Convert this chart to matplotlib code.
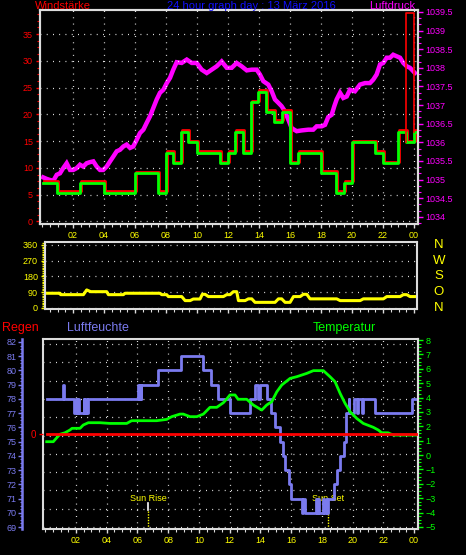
# Wetterstation 24h Grafik: Wind / Luftdruck, Windrichtung, Feuchte / Temperatur

import numpy as np
import matplotlib.pyplot as plt
import matplotlib.transforms as mtransforms
from matplotlib.ticker import MultipleLocator, AutoMinorLocator

plt.rcParams['font.family'] = ['Liberation Sans', 'DejaVu Sans']

# Zeitachse (Stunden)
hour_ticks = list(range(2, 25, 2))
hour_labels = ['02', '04', '06', '08', '10', '12', '14', '16', '18', '20', '22', '00']

# Windstärke (Stufen, km/h)
wind_h = [0.08, 0.95, 2.45, 4.0, 6.0, 7.5, 8.0, 8.47, 8.97, 9.45, 9.98, 11.48, 11.98, 12.45, 12.97,
          13.48, 13.95, 14.43, 14.97, 15.46, 15.97, 16.5, 18.0, 18.97, 19.48, 19.98, 21.48, 21.98,
          22.99, 23.48, 24.0, 24.13]
wind_v = [7.2, 5.3, 7.2, 5.3, 9.0, 5.3, 12.8, 10.9, 16.7, 14.8, 12.8, 10.9, 12.8, 16.7, 12.8,
          22.3, 24.2, 20.5, 18.6, 20.5, 10.9, 12.8, 9.1, 5.3, 7.2, 14.8, 12.8, 10.9,
          16.7, 14.8, 16.7, 16.7]

# aktueller Zeitpunkt (rote Markierung)
now_h = [23.48, 24.02]
now_low = [14.8, 16.7]
now_top = 38.95

# Luftdruck (hPa)
press_h = [0.08, 0.30, 0.52, 0.73, 0.95, 1.16, 1.37, 1.59, 1.81, 2.02, 2.24, 2.45, 2.66, 2.88, 3.10,
           3.31, 3.53, 3.74, 3.95, 4.17, 4.39, 4.60, 4.82, 5.03, 5.25, 5.46, 5.68, 5.89, 6.11, 6.32,
           6.54, 6.75, 6.97, 7.18, 7.40, 7.61, 7.83, 8.05, 8.26, 8.47, 8.69, 9.01, 9.34, 9.66, 9.98,
           10.30, 10.63, 10.95, 11.27, 11.59, 11.92, 12.24, 12.56, 12.88, 13.21, 13.53, 13.85, 14.06,
           14.28, 14.60, 14.82, 15.03, 15.25, 15.46, 15.68, 15.89, 16.11, 16.43, 16.75, 17.18, 17.50,
           17.72, 18.05, 18.26, 18.47, 18.69, 18.86, 19.01, 19.23, 19.44, 19.66, 19.87, 20.19, 20.52,
           20.84, 21.16, 21.37, 21.59, 21.81, 22.02, 22.24, 22.45, 22.66, 22.88, 23.10, 23.31, 23.53,
           23.74, 23.95, 24.06]
press_v = [1035.06, 1035.02, 1034.99, 1034.97, 1035.13, 1035.17, 1035.31, 1035.44, 1035.26, 1035.26,
           1035.31, 1035.40, 1035.35, 1035.44, 1035.47, 1035.49, 1035.35, 1035.26, 1035.26, 1035.35,
           1035.49, 1035.62, 1035.76, 1035.80, 1035.89, 1035.94, 1035.85, 1035.89, 1036.07, 1036.25,
           1036.34, 1036.52, 1036.70, 1036.92, 1037.15, 1037.33, 1037.41, 1037.59, 1037.73, 1037.95,
           1038.15, 1038.13, 1038.22, 1038.13, 1038.13, 1037.95, 1037.86, 1037.95, 1038.04, 1038.17,
           1038.00, 1038.00, 1038.13, 1038.04, 1037.93, 1037.95, 1037.95, 1037.82, 1037.64, 1037.55,
           1037.37, 1037.15, 1037.06, 1036.97, 1036.83, 1036.61, 1036.38, 1036.30, 1036.32, 1036.34,
           1036.34, 1036.43, 1036.43, 1036.47, 1036.68, 1036.74, 1036.97, 1037.15, 1037.33, 1037.19,
           1037.23, 1037.41, 1037.37, 1037.55, 1037.59, 1037.59, 1037.68, 1037.82, 1038.09, 1038.13,
           1038.27, 1038.27, 1038.35, 1038.31, 1038.27, 1038.13, 1038.04, 1038.00, 1037.91, 1037.86]

# Windrichtung (Grad)
dir_h = [0.26, 1.16, 1.2, 2.67, 2.88, 3.14, 4.17, 4.28, 5.25, 5.35, 7.61, 7.72, 8.04, 8.15, 9.01,
         9.23, 9.55, 9.76, 10.19, 10.34, 10.52, 10.73, 11.7, 11.91, 12.13, 12.34, 12.56, 12.67, 13.1,
         13.31, 13.53, 13.74, 15.03, 15.25, 15.46, 15.68, 16.0, 16.22, 16.65, 16.86, 17.08, 17.29,
         19.01, 19.23, 20.52, 20.73, 22.02, 22.24, 23.1, 23.31, 23.53, 23.74, 24.13]
dir_v = [84, 84, 76, 76, 103, 93, 93, 76, 76, 84, 84, 76, 76, 65, 65,
         42, 42, 51, 51, 78, 78, 65, 65, 76, 76, 93, 93, 42, 42,
         52, 52, 32, 32, 52, 52, 32, 32, 65, 65, 78, 78, 52,
         52, 42, 42, 52, 52, 65, 65, 76, 76, 65, 65]
compass = ['N', 'O', 'S', 'W', 'N']
compass_deg = [0, 90, 180, 270, 360]

# Luftfeuchte (%)
hum_h = [0.09, 1.12, 1.22, 1.87, 2.0, 2.05, 2.15, 2.2, 2.5, 2.55, 2.65, 2.7, 2.81, 6.05, 6.1,
         6.15, 6.2, 6.25, 7.36, 8.83, 10.29, 10.77, 11.26, 12.02, 13.33, 13.65, 13.87, 13.98, 14.44,
         14.7, 14.96, 15.28, 15.45, 15.6, 15.86, 15.99, 16.69, 16.75, 16.9, 17.62, 17.68, 17.75,
         17.84, 18.1, 18.16, 18.26, 18.32, 18.42, 18.8, 18.97, 19.18, 19.45, 19.55, 19.6, 19.75,
         19.8, 20.1, 20.3, 20.35, 20.6, 20.65, 21.46, 23.85, 24.13]
hum_v = [78, 79, 78, 77, 78, 77, 78, 77, 78, 77, 78, 77, 78, 79, 78,
         79, 78, 79, 80, 81, 80, 79, 78, 77, 78, 79, 78, 79, 78,
         77, 76, 75, 74, 73, 72, 71, 70, 71, 70, 71, 70, 71,
         70, 71, 70, 71, 70, 71, 72, 73, 74, 75, 76, 77, 78,
         77, 78, 77, 78, 77, 78, 77, 78, 78]

# Temperatur (°C)
temp_h = [0.09, 0.52, 0.74, 0.96, 1.28, 1.6, 1.74, 2.26, 2.47, 2.8, 3.56, 4.21, 5.3, 5.62, 7.25,
          7.9, 8.23, 8.77, 8.98, 9.42, 9.86, 10.29, 10.72, 11.16, 11.59, 11.81, 12.02, 12.35, 12.55,
          13.11, 13.54, 14.09, 14.41, 14.74, 15.07, 15.39, 15.93, 16.37, 17.02, 17.45, 18.1, 18.53,
          18.86, 19.19, 19.51, 19.84, 20.27, 20.7, 21.35, 21.68, 21.9, 22.31, 22.65, 24.13]
temp_v = [0.93, 0.93, 1.2, 1.45, 1.55, 1.74, 1.86, 1.86, 2.09, 2.25, 2.25, 2.2, 2.2, 2.39, 2.39,
          2.48, 2.67, 2.85, 2.85, 2.67, 2.67, 2.85, 3.32, 3.32, 3.64, 3.9, 4.18, 4.18, 3.88,
          3.88, 3.48, 3.13, 3.48, 3.71, 4.4, 4.87, 5.33, 5.45, 5.68, 5.87, 5.87, 5.45,
          5.1, 4.29, 3.6, 3.01, 2.55, 2.2, 1.93, 1.74, 1.55, 1.55, 1.39, 1.39]

# Regen (mm)
rain_h = [0.09, 24.13]
rain_v = [0, 0]

# Sonnenauf-/untergang
sun_h = [6.7, 18.42]
sun_labels = ['Sun Rise', 'Sun Set']

# Farben
RED = '#ff0000'
MAG = '#ff00ff'
GREEN = '#00ff00'
YEL = '#ffff00'
HUM = '#7b7bef'
SPINE = '#dcdcdc'
dots = (0, (0.7, 4.3))
FS = 6.5

W, H = 466, 555
fig = plt.figure(figsize=(W / 100, H / 100), dpi=100, facecolor='black')


def box(l, t, r, b):
    return [l / W, 1 - b / H, (r - l) / W, (b - t) / H]


def style_spines(ax, color=SPINE):
    for s in ax.spines.values():
        s.set_color(color)
        s.set_linewidth(1.5)


def hour_axis(ax, labels=True):
    ax.set_xticks(hour_ticks)
    ax.set_xticklabels(hour_labels if labels else [])
    ax.xaxis.set_minor_locator(MultipleLocator(0.5))
    ax.tick_params(axis='x', which='major', colors=SPINE, labelcolor=YEL, labelsize=FS,
                   length=3, width=1, pad=2)
    ax.tick_params(axis='x', which='minor', colors=SPINE, length=2, width=0.8)


# ---- oben: Windstärke + Luftdruck ----
ax1 = fig.add_axes(box(40, 10, 418, 224))
ax1p = ax1.twinx()
ax1.set_zorder(ax1p.get_zorder() + 1)
ax1.patch.set_visible(False)
ax1p.patch.set_visible(True)
ax1p.patch.set_facecolor('black')

ax1.set_xlim(-0.13, 24.26)
ax1.set_ylim(-0.5, 39.5)
ax1p.set_ylim(1033.81, 1039.55)

ax1p.plot(press_h, press_v, color=MAG, lw=3.2, solid_joinstyle='miter')

shift = mtransforms.offset_copy(ax1.transData, fig=fig, x=1, y=1.5, units='dots')
ax1.step(wind_h, wind_v, where='post', color=RED, lw=2, transform=shift)
ax1.step(wind_h, wind_v, where='post', color=GREEN, lw=2)

ax1.plot([now_h[0], now_h[0], now_h[1], now_h[1]], [now_low[0], now_top, now_top, now_low[1]],
         color=RED, lw=1.2)

ax1.set_yticks(range(0, 40, 5))
ax1.yaxis.set_minor_locator(AutoMinorLocator(4))
ax1.tick_params(axis='y', which='major', colors=RED, labelsize=FS, length=3, width=1, pad=2)
ax1.tick_params(axis='y', which='minor', colors=RED, length=2, width=0.8)
ax1p.set_yticks(np.arange(1034, 1039.51, 0.5))
ax1p.set_yticklabels(['%g' % v for v in np.arange(1034, 1039.51, 0.5)])
ax1p.yaxis.set_minor_locator(AutoMinorLocator(3))
ax1p.tick_params(axis='y', which='major', colors=MAG, labelsize=FS, length=3.5, width=1, pad=2)
ax1p.tick_params(axis='y', which='minor', colors=MAG, length=2, width=0.8)
hour_axis(ax1)
ax1.grid(True, color='white', linestyle=dots, lw=0.9)
style_spines(ax1)
style_spines(ax1p)

fig.text(35 / W, 1 - 9 / H, 'Windstärke', color=RED, fontsize=8, va='baseline', ha='left')
fig.text(251 / W, 1 - 9 / H, '24 hour graph day : 13 März 2016', color='#1010ff', fontsize=8,
         va='baseline', ha='center')
fig.text(415 / W, 1 - 9 / H, 'Luftdruck', color=MAG, fontsize=8, va='baseline', ha='right')

# ---- Mitte: Windrichtung ----
ax2 = fig.add_axes(box(45, 242, 417, 309))
ax2.set_facecolor('black')
ax2.set_xlim(0.19, 24.19)
ax2.set_ylim(-6, 377)
ax2.plot(dir_h, dir_v, color=YEL, lw=2.2)
ax2.set_yticks(compass_deg)
ax2.yaxis.set_minor_locator(MultipleLocator(10))
ax2.tick_params(axis='y', which='major', colors=YEL, labelsize=FS, length=3, width=1, pad=2)
ax2.tick_params(axis='y', which='minor', colors=YEL, length=2, width=1)
hour_axis(ax2, labels=False)
ax2.yaxis.grid(True, color='white', linestyle=dots, lw=0.9)
style_spines(ax2)
for name, deg in zip(compass, compass_deg):
    ax2.text((439 - 45) / 372, deg, name, color=YEL, fontsize=9.5,
             ha='center', va='center', transform=ax2.get_yaxis_transform())

# ---- unten: Regen, Luftfeuchte, Temperatur ----
ax3 = fig.add_axes(box(43, 339, 418, 529))
ax3.set_facecolor('black')
ax3.set_xlim(-0.15, 24.26)
ax3.set_ylim(0, 1)
ax3.set_yticks(np.linspace(2 / 190, 185 / 190, 11))
ax3.tick_params(axis='y', length=0, labelleft=False)
hour_axis(ax3)
ax3.grid(True, color='white', linestyle=dots, lw=0.9)
style_spines(ax3)

for h, lab in zip(sun_h, sun_labels):
    ax3.plot([h, h], [0, 0.1], color=YEL, lw=1, linestyle=(0, (1, 1)))
    ax3.plot([h, h], [0.1, 0.135], color='white', lw=1.2)
    ax3.text(h, 0.137, lab, color=YEL, fontsize=6.5, ha='center', va='bottom')

ax3h = ax3.twinx()
ax3h.yaxis.tick_left()
ax3h.yaxis.set_label_position('left')
for s in ['right', 'top', 'bottom']:
    ax3h.spines[s].set_visible(False)
ax3h.spines['left'].set_position(('outward', 15))
ax3h.spines['left'].set_color(HUM)
ax3h.spines['left'].set_linewidth(1.8)
ax3h.set_ylim(68.86, 82.21)
ax3h.set_yticks(range(69, 83))
ax3h.yaxis.set_minor_locator(AutoMinorLocator(4))
ax3h.tick_params(axis='y', which='major', colors=HUM, labelsize=FS, length=3, width=1, pad=1)
ax3h.tick_params(axis='y', which='minor', colors=HUM, length=1.5, width=0.8)
ax3h.step(hum_h, hum_v, where='post', color=HUM, lw=2)

ax3t = ax3.twinx()
for s in ['left', 'top', 'bottom']:
    ax3t.spines[s].set_visible(False)
ax3t.spines['right'].set_color(SPINE)
ax3t.spines['right'].set_linewidth(1.5)
ax3t.set_ylim(-5.14, 8.07)
ax3t.set_yticks(range(-5, 9))
ax3t.yaxis.set_minor_locator(AutoMinorLocator(4))
ax3t.tick_params(axis='y', which='major', colors=GREEN, labelsize=FS, length=3.5, width=1, pad=2)
ax3t.tick_params(axis='y', which='minor', colors=GREEN, length=2, width=0.8)
ax3t.plot(temp_h, temp_v, color=GREEN, lw=2)

ax3r = ax3.twinx()
ax3r.yaxis.tick_left()
for s in ax3r.spines.values():
    s.set_visible(False)
ax3r.set_ylim(-1, 1)
ax3r.set_yticks([0])
ax3r.tick_params(axis='y', colors=RED, labelsize=FS + 0.5, length=3, width=1, pad=2)
ax3r.plot(rain_h, rain_v, color=RED, lw=2)

fig.text(2 / W, 1 - 328 / H, 'Regen', color=RED, fontsize=9, va='center', ha='left')
fig.text(67 / W, 1 - 328 / H, 'Luftfeuchte', color=HUM, fontsize=9, va='center', ha='left')
fig.text(313 / W, 1 - 328 / H, 'Temperatur', color=GREEN, fontsize=9, va='center', ha='left')

fig.savefig('out.png', dpi=100, facecolor='black')
